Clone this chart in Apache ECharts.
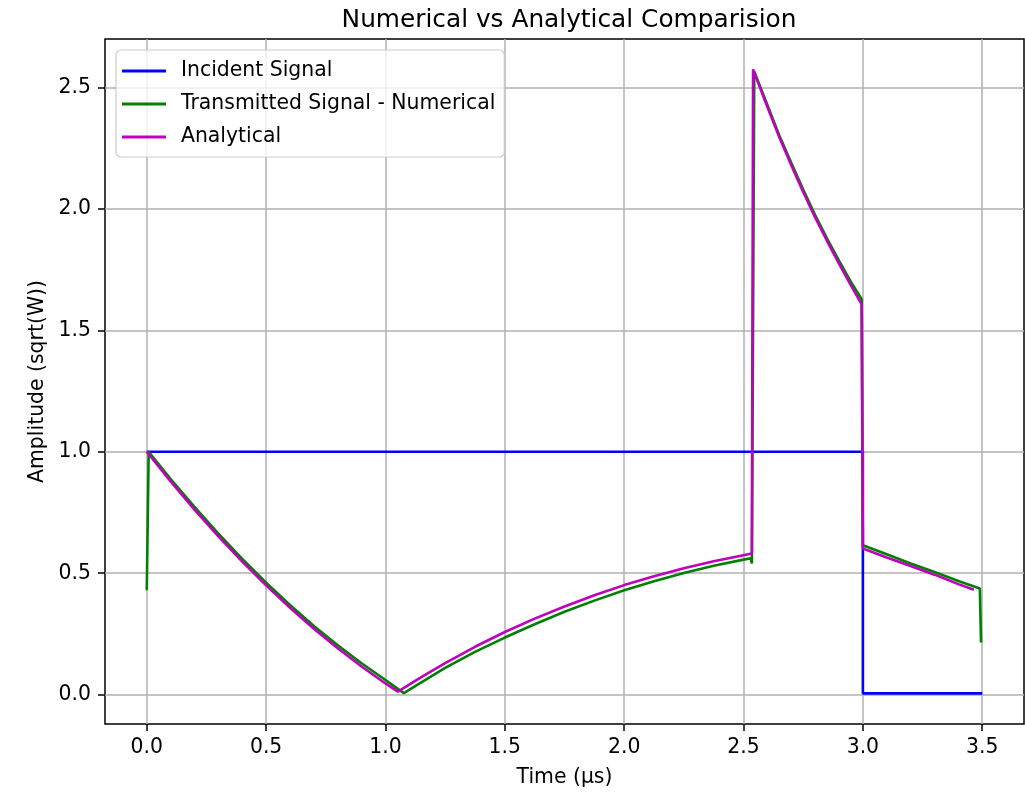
<!DOCTYPE html>
<html>
<head>
<meta charset="utf-8">
<script src="https://cdn.jsdelivr.net/npm/echarts@6/dist/echarts.min.js"></script>
<style>
html,body{margin:0;padding:0;background:#fff;}
#chart{width:1025px;height:798px;}
</style>
</head>
<body>
<div id="chart"></div>
<script>
// ---- data ----
const titleText = 'Numerical vs Analytical Comparision';
const xName = 'Time (µs)';
const yName = 'Amplitude (sqrt(W))';
const seriesNames = ['Incident Signal', 'Transmitted Signal - Numerical', 'Analytical'];
const xTicks = [0, 0.5, 1.0, 1.5, 2.0, 2.5, 3.0, 3.5];
const yTicks = [0, 0.5, 1.0, 1.5, 2.0, 2.5];

const incidentX = [0, 3.0, 3.0, 3.5];
const incidentY = [1.0, 1.0, 0.005, 0.005];

const numericalX = [0, 0.008, 0.1, 0.2, 0.3, 0.4, 0.5, 0.6, 0.7, 0.8, 0.9, 1.0, 1.077,
  1.15, 1.25, 1.375, 1.5, 1.625, 1.75, 1.875, 2.0, 2.125, 2.25, 2.375, 2.5, 2.53, 2.535,
  2.545, 2.6, 2.65, 2.7, 2.75, 2.8, 2.85, 2.9, 2.95, 2.995,
  3.0, 3.1, 3.2, 3.3, 3.4, 3.49, 3.495];
const numericalY = [0.43, 1.0, 0.888, 0.773, 0.663, 0.559, 0.461, 0.369, 0.283, 0.203, 0.129, 0.06, 0.006,
  0.05, 0.11, 0.176, 0.235, 0.29, 0.341, 0.387, 0.43, 0.467, 0.501, 0.531, 0.556, 0.562, 0.54,
  2.565, 2.428, 2.303, 2.19, 2.08, 1.975, 1.878, 1.787, 1.70, 1.628,
  0.615, 0.578, 0.54, 0.505, 0.468, 0.437, 0.215];

const analyticalX = [0, 0.1, 0.2, 0.3, 0.4, 0.5, 0.6, 0.7, 0.8, 0.9, 1.0, 1.052,
  1.15, 1.25, 1.375, 1.5, 1.625, 1.75, 1.875, 2.0, 2.125, 2.25, 2.375, 2.5, 2.535,
  2.54, 2.6, 2.65, 2.7, 2.75, 2.8, 2.85, 2.9, 2.95, 2.995,
  3.0, 3.1, 3.2, 3.3, 3.4, 3.465];
const analyticalY = [1.0, 0.878, 0.762, 0.652, 0.548, 0.45, 0.358, 0.271, 0.191, 0.116, 0.046, 0.012,
  0.072, 0.13, 0.197, 0.258, 0.313, 0.363, 0.409, 0.451, 0.487, 0.52, 0.549, 0.574, 0.581,
  2.575, 2.42, 2.295, 2.18, 2.07, 1.965, 1.868, 1.775, 1.685, 1.607,
  0.602, 0.565, 0.53, 0.494, 0.455, 0.432];

const colors = ['#0000ff', '#008000', '#bf00bf'];

function zip(xs, ys) { return xs.map((x, i) => [x, ys[i]]); }

const FONT = 'DejaVu Sans';
const chart = echarts.init(document.getElementById('chart'), null, {renderer: 'canvas'});

const lineSeries = (name, data, color) => ({
  name: name,
  type: 'line',
  data: data,
  showSymbol: false,
  symbol: 'none',
  animation: false,
  clip: false,
  lineStyle: {color: color, width: 2.6},
  itemStyle: {color: color}
});

chart.setOption({
  animation: false,
  backgroundColor: '#ffffff',
  title: {
    text: titleText,
    left: 564, textAlign: 'center',
    top: 3,
    textStyle: {fontFamily: FONT, fontSize: 24.8, fontWeight: 'normal', color: '#000'}
  },
  legend: {
    orient: 'vertical',
    left: 116, top: 50,
    padding: [9, 9, 8, 6],
    backgroundColor: 'rgba(255,255,255,0.8)',
    borderColor: '#cccccc',
    borderWidth: 1.2,
    borderRadius: 5,
    itemWidth: 44,
    itemHeight: 3,
    itemGap: 9,
    icon: 'rect',
    data: seriesNames.map((n, i) => ({name: n, itemStyle: {color: colors[i]}})),
    textStyle: {fontFamily: FONT, fontSize: 20.4, color: '#000', lineHeight: 24, padding: [0, 0, 0, 10]}
  },
  grid: {
    left: 105, top: 39, right: 1, bottom: 74,
    show: true, borderColor: '#000', borderWidth: 1.5,
    containLabel: false
  },
  xAxis: {
    type: 'value',
    min: -0.175, max: 3.675,
    name: xName,
    nameLocation: 'middle',
    nameGap: 44,
    nameTextStyle: {fontFamily: FONT, fontSize: 20.4, color: '#000'},
    axisLine: {show: false, onZero: false},
    axisTick: {show: true, length: 7, inside: false, customValues: xTicks, lineStyle: {color: '#000', width: 1.5}},
    axisLabel: {
      customValues: xTicks, margin: 14,
      fontFamily: FONT, fontSize: 20.4, color: '#000',
      formatter: v => v.toFixed(1)
    },
    splitLine: {show: true, lineStyle: {color: '#b0b0b0', width: 1.5}}
  },
  yAxis: {
    type: 'value',
    min: -0.121, max: 2.70,
    name: yName,
    nameLocation: 'middle',
    nameGap: 57,
    nameRotate: 90,
    nameTextStyle: {fontFamily: FONT, fontSize: 20.4, color: '#000'},
    axisLine: {show: false, onZero: false},
    axisTick: {show: true, length: 7, inside: false, customValues: yTicks, lineStyle: {color: '#000', width: 1.5}},
    axisLabel: {
      customValues: yTicks, margin: 14,
      fontFamily: FONT, fontSize: 20.4, color: '#000',
      formatter: v => v.toFixed(1)
    },
    splitLine: {show: true, lineStyle: {color: '#b0b0b0', width: 1.5}}
  },
  series: [
    lineSeries(seriesNames[0], zip(incidentX, incidentY), colors[0]),
    lineSeries(seriesNames[1], zip(numericalX, numericalY), colors[1]),
    lineSeries(seriesNames[2], zip(analyticalX, analyticalY), colors[2])
  ]
});
</script>
</body>
</html>
